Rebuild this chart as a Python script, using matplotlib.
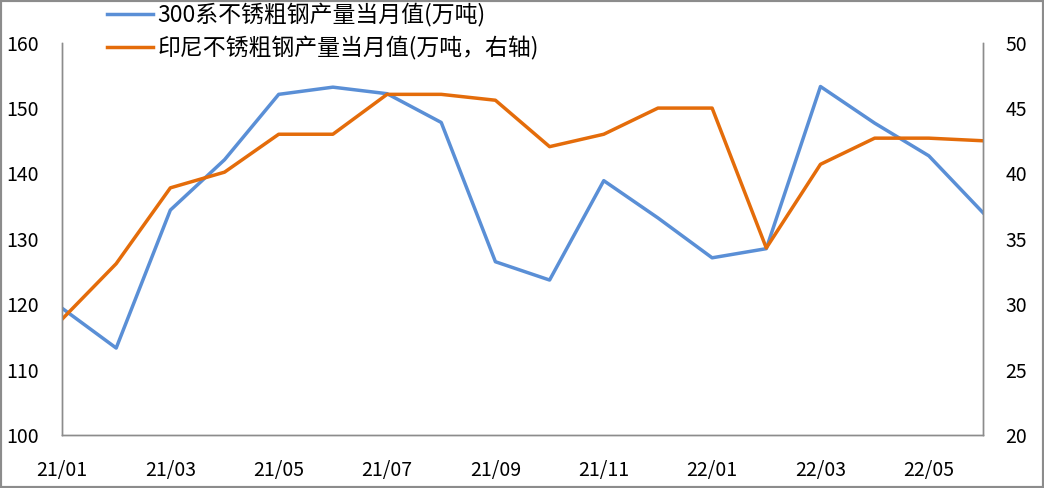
import matplotlib
matplotlib.use("Agg")
import matplotlib.pyplot as plt
from matplotlib.patches import Rectangle

plt.rcParams['font.family'] = ['Noto Sans CJK SC', 'DejaVu Sans']

# 数据
months = ['21/01', '21/02', '21/03', '21/04', '21/05', '21/06', '21/07', '21/08', '21/09',
          '21/10', '21/11', '21/12', '22/01', '22/02', '22/03', '22/04', '22/05', '22/06']
steel_300 = [119.4, 113.3, 134.4, 142.1, 152.1, 153.2, 152.2, 147.8, 126.5,
             123.7, 138.9, 133.2, 127.1, 128.5, 153.3, 147.7, 142.7, 134.0]
indonesia = [28.85, 33.1, 38.9, 40.1, 43.0, 43.0, 46.05, 46.05, 45.6,
             42.05, 43.0, 45.0, 45.0, 34.3, 40.7, 42.7, 42.7, 42.5]
label_300 = '300系不锈粗钢产量当月值(万吨)'
label_indo = '印尼不锈粗钢产量当月值(万吨，右轴)'

BLUE = '#5A8FD6'
ORANGE = '#E46C0A'
GREY = '#8C8C8C'

fig = plt.figure(figsize=(10.44, 4.88), dpi=100)
ax = fig.add_axes([62 / 1044, 53 / 488, 921 / 1044, 392.3 / 488])
ax2 = ax.twinx()

x = list(range(len(months)))
l1, = ax.plot(x, steel_300, color=BLUE, lw=2.5, label=label_300)
l2, = ax2.plot(x, indonesia, color=ORANGE, lw=2.5, label=label_indo)

ax.set_xlim(0, len(months) - 1)
ax.set_ylim(100, 160)
ax2.set_ylim(20, 50)
ax.set_yticks(range(100, 161, 10))
ax2.set_yticks(range(20, 51, 5))
ax.set_xticks(x[::2])
ax.set_xticklabels(months[::2])

for a in (ax, ax2):
    a.spines['top'].set_visible(False)
    for s in ('left', 'right', 'bottom'):
        a.spines[s].set_color(GREY)
        a.spines[s].set_linewidth(1.0)
    a.tick_params(length=0, labelsize=14, colors='black')
ax.tick_params(axis='y', pad=17)
ax.tick_params(axis='x', pad=18)
ax2.tick_params(axis='y', pad=16)

fig.legend(handles=[l1, l2], loc='upper left', bbox_to_anchor=(107 / 1044, 1 - 3 / 488),
           frameon=False, fontsize=16.5, handlelength=2.0, handletextpad=0.2,
           labelspacing=0.4, borderpad=0.0, borderaxespad=0.0)

# 外边框
fig.patches.append(Rectangle((0, 0), 1, 1, transform=fig.transFigure, fill=False,
                             edgecolor='#8C8C8C', linewidth=3))

fig.savefig('out.png', dpi=100)
plt.close(fig)
